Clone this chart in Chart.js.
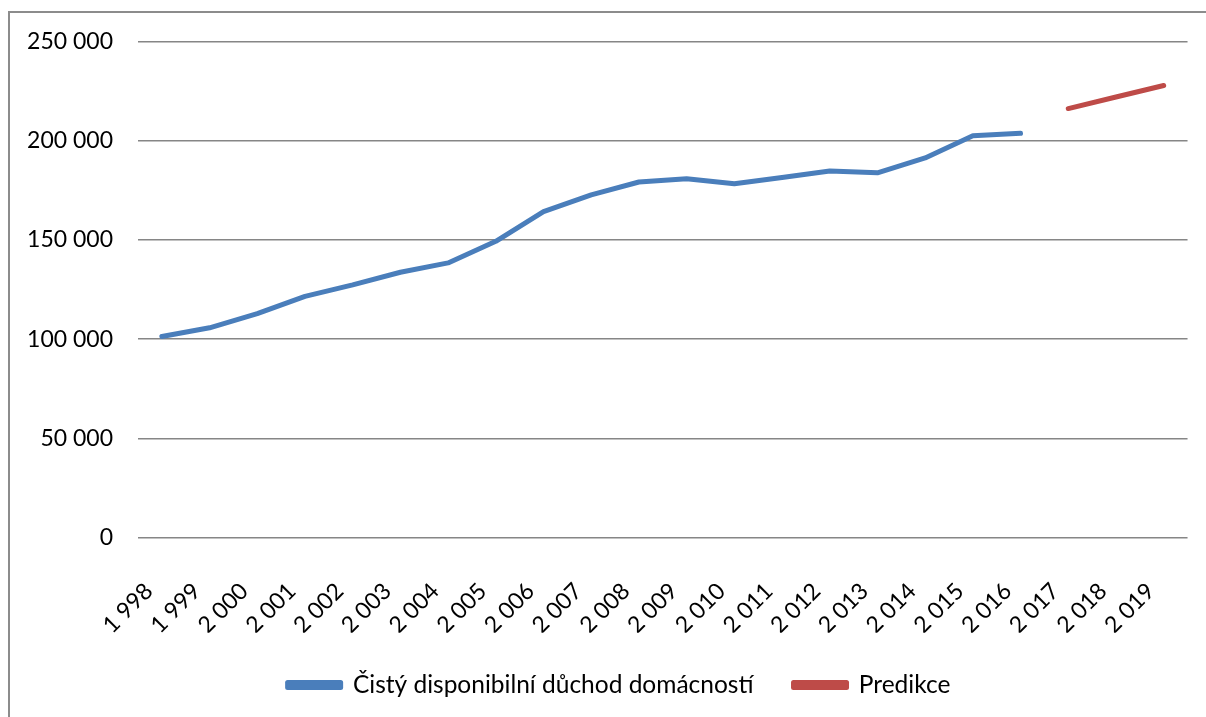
<!DOCTYPE html>
<html lang="cs">
<head>
<meta charset="utf-8">
<title>Čistý disponibilní důchod domácností</title>
<script src="https://cdn.jsdelivr.net/npm/chart.js@4/dist/chart.umd.min.js"></script>
<style>
  html, body { margin: 0; padding: 0; background: #fff; overflow: hidden; }
  body { width: 1206px; height: 717px; position: relative; }
  #frame {
    position: absolute; left: 8px; top: 11px;
    width: 1214px; height: 716px;
    border: 2px solid #8c8c8c;
  }
  #chart { display: block; }
</style>
</head>
<body>
<div id="frame"><canvas id="chart" width="1214" height="716"></canvas></div>
<script>
// Years on the category axis
const years = ['1 998', '1 999', '2 000', '2 001', '2 002', '2 003', '2 004', '2 005',
  '2 006', '2 007', '2 008', '2 009', '2 010', '2 011', '2 012', '2 013', '2 014',
  '2 015', '2 016', '2 017', '2 018', '2 019'];

// Net disposable household income, observed years (1998–2016)
const disposableIncome = [101300, 105700, 112800, 121500, 127300, 133700, 138400, 149300,
  164300, 172700, 179200, 180800, 178300, 181500, 184700, 183800, 191300, 202500, 203700,
  null, null, null];

// Forecast (2017–2019)
const forecast = [null, null, null, null, null, null, null, null, null, null, null,
  null, null, null, null, null, null, null, null, 216200, 222000, 227800];

const seriesNames = ['Čistý disponibilní důchod domácností', 'Predikce'];

const FONT = 'Lato, "Open Sans", sans-serif';

const formatThousands = v => String(v).replace(/\B(?=(\d{3})+(?!\d))/g, ' ');

// The legend is centred on the whole frame rather than on the plot block
const legendShift = {
  id: 'legendShift',
  afterLayout(chart) {
    const lg = chart.legend;
    if (!lg) return;
    lg.left += 19.5;
    lg.right += 19.5;
  }
};

new Chart(document.getElementById('chart'), {
  type: 'line',
  data: {
    labels: years,
    datasets: [
      {
        label: seriesNames[0],
        data: disposableIncome,
        borderColor: '#4a7ebb',
        backgroundColor: '#4a7ebb',
        borderWidth: 5,
        borderCapStyle: 'round',
        borderJoinStyle: 'round',
        pointRadius: 0,
        tension: 0,
        spanGaps: false
      },
      {
        label: seriesNames[1],
        data: forecast,
        borderColor: '#be4b48',
        backgroundColor: '#be4b48',
        borderWidth: 5,
        borderCapStyle: 'round',
        borderJoinStyle: 'round',
        pointRadius: 0,
        tension: 0,
        spanGaps: false
      }
    ]
  },
  plugins: [legendShift],
  options: {
    responsive: false,
    animation: false,
    events: [],
    layout: { padding: { top: 28.5, right: 35, bottom: 21.75, left: 0 } },
    plugins: {
      tooltip: { enabled: false },
      legend: {
        position: 'bottom',
        align: 'center',
        labels: {
          color: '#000',
          font: { family: FONT, size: 24.5 },
          boxWidth: 53,
          boxHeight: 5,
          padding: 40
        }
      }
    },
    scales: {
      x: {
        offset: true,
        grid: { display: false, drawTicks: false },
        border: { display: false },
        ticks: {
          color: '#000',
          font: { family: FONT, size: 23 },
          minRotation: 45,
          maxRotation: 45,
          autoSkip: false,
          padding: 40,
          labelOffset: -13
        },
        afterFit: s => { s.height = 95.25; }
      },
      y: {
        min: 0,
        max: 250000,
        grid: { color: '#868686', lineWidth: 1.5, drawTicks: false },
        border: { display: false },
        ticks: {
          stepSize: 50000,
          color: '#000',
          font: { family: FONT, size: 23 },
          padding: 25,
          callback: v => formatThousands(v)
        },
        afterFit: s => {
          s.width = 128;
          s.paddingTop = 0;
          s.paddingBottom = 0;
        }
      }
    }
  }
});
</script>
</body>
</html>
